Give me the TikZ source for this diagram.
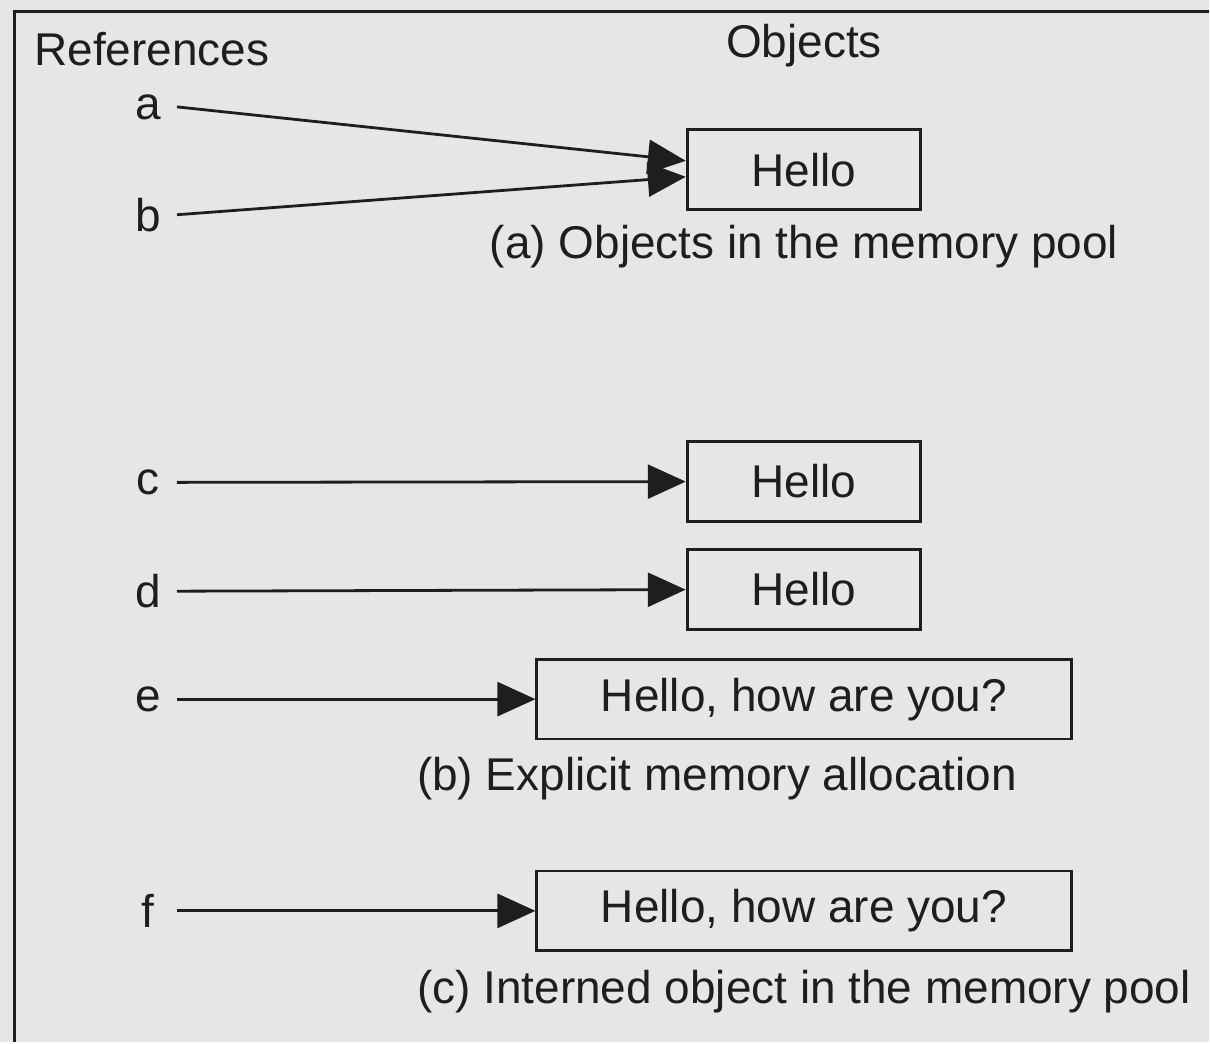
\documentclass[tikz,border=0pt]{standalone}
\usepackage{fontspec}
\setmainfont{Liberation Sans}
\usetikzlibrary{arrows.meta,positioning}
\definecolor{poolgray}{HTML}{E6E6E6}
\definecolor{inkgray}{HTML}{1E1E1E}

\begin{document}
\begin{tikzpicture}[x=1pt, y=1pt, node distance=78pt,
  every node/.style={text=inkgray, font=\fontsize{46}{54}\selectfont},
  objbox/.style={rectangle, draw=inkgray, line width=2.8pt, inner sep=0pt, minimum height=80pt},
  refname/.style={inner sep=0pt, minimum width=58pt},
  refarrow/.style={draw=inkgray, line width=2.8pt, -{Triangle[length=38pt, width=34pt]}}]

\fill[poolgray] (0,0) rectangle (1210,-1043);
\draw[inkgray, line width=3pt] (15,-1043) -- (15,-12) -- (1210,-12);

% column heads
\node[anchor=west] (refs) at (31,-49) {References};
\node (objs) at (805,-46) {Objects};

% (a) pool
\node[objbox, minimum width=234pt] (helloa) at (805,-170) {Hello};
\node[below of=helloa, node distance=77pt] (capa) {(a) Objects in the memory pool};
\node[refname] (ra) at (148,-107) {a};
\node[refname] (rb) at (148,-215) {b};

\draw[refarrow] (ra.east) -- ([yshift=9pt]helloa.west);
\draw[refarrow] (rb.east) -- ([yshift=-7pt]helloa.west);

% (b) explicit
\node[objbox, minimum width=234pt] (helloc) at (805,-482) {Hello};
\node[objbox, minimum width=234pt] (hellod) at (805,-590) {Hello};
\node[objbox, minimum width=535pt] (helloe) at (805,-700) {Hello, how are you?};
\node[below of=helloe, node distance=80pt, xshift=-87pt] (capb) {(b) Explicit memory allocation};
\node[refname] (rc) at (148,-483) {c};
\node[refname] (rd) at (148,-592) {d};
\node[refname] (re) at (148,-700) {e};

\draw[refarrow] (rc) -- (helloc);
\draw[refarrow] (rd) -- (hellod);
\draw[refarrow] (re) -- (helloe);

% (c) interned
\node[objbox, minimum width=535pt] (hellof) at (805,-912) {Hello, how are you?};
\node[below of=hellof, node distance=81pt] (capc) {(c) Interned object in the memory pool};
\node[refname] (rf) at (148,-912) {f};

\draw[refarrow] (rf) -- (hellof);

\end{tikzpicture}
\end{document}
